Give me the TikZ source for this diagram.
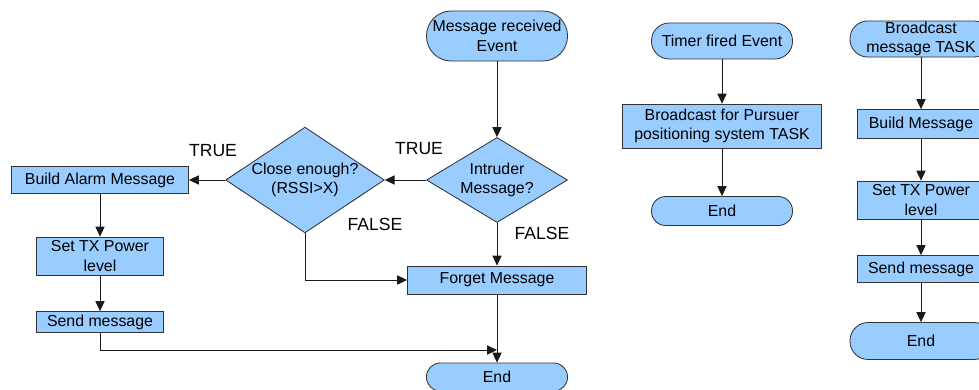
\documentclass[tikz,border=0pt]{standalone}
\usepackage{fontspec}
\setmainfont{Liberation Sans}
\usetikzlibrary{arrows.meta,positioning,shapes.geometric}
\definecolor{boxblue}{HTML}{99CCFF}
\definecolor{boxline}{HTML}{333333}
\definecolor{wire}{HTML}{1A1A1A}

\begin{document}
\begin{tikzpicture}[
  x=0.025cm, y=-0.025cm,
  every node/.style={font=\fontsize{11.3}{14}\selectfont, align=center, inner sep=0pt},
  task/.style 2 args={rectangle, draw=boxline, fill=boxblue, line width=0.6pt, minimum width=#1, minimum height=#2},
  term/.style 2 args={rectangle, rounded corners=#2/2-0.2pt, draw=boxline, fill=boxblue, line width=0.6pt, minimum width=#1, minimum height=#2},
  test/.style 2 args={diamond, aspect=1.5, draw=boxline, fill=boxblue, line width=0.6pt, minimum width=#1, minimum height=#2},
  branch/.style={font=\fontsize{12.5}{14}\selectfont},
  arr/.style={wire, line width=0.6pt, -{Triangle[length=7pt,width=6.5pt]}},
]
\useasboundingbox (0,0) rectangle (979,389);

% message handling flow (pixel grid, y grows downwards)
\node[term={3.525cm}{1.25cm}]  (msgrecv) at (497,36)  {Message received\\Event};
\node[test={3.525cm}{2.125cm}] (intruder) at (497,180) {Intruder\\Message?};
\node[test={3.875cm}{2.575cm}] (close)    at (305,180) {Close enough?\\(RSSI>X)};
\node[task={4.425cm}{0.675cm}] (alarm)    at (100,180) {Build Alarm Message};
\node[task={3.175cm}{0.95cm}]  (settxl)   at (100,256) {Set TX Power\\level};
\node[task={3.175cm}{0.525cm}] (sendl)    at (100,322) {Send message};
\node[task={4.475cm}{0.7cm}]   (forget)   at (497,280) {Forget Message};
\node[term={3.525cm}{0.7cm}]   (endm)     at (497,377) {End};
\coordinate (merge) at (497,350);

\node[branch] (truec)  at (213,151) {TRUE};
\node[branch] (truei)  at (419,149) {TRUE};
\node[branch] (falsec) at (375,224) {FALSE};
\node[branch] (falsei) at (542,233) {FALSE};

\draw[arr] (msgrecv) -- (intruder);
\draw[arr] (intruder) -- (close);
\draw[arr] (close) -- (alarm);
\draw[arr] (alarm) -- (settxl);
\draw[arr] (settxl) -- (sendl);
\draw[arr] (close.south) |- (forget.west);
\draw[arr] (intruder) -- (forget);
\draw[arr] (forget) -- (endm);
\draw[arr] (sendl.south) |- (merge);

% timer flow
\node[term={3.525cm}{0.9cm}]   (timer)   at (722,41)  {Timer fired Event};
\node[task={4.975cm}{1.1cm}]   (pursuer) at (722,126) {Broadcast for Pursuer\\positioning system TASK};
\node[term={3.525cm}{0.725cm}] (endt)    at (722,211) {End};
\draw[arr] (timer) -- (pursuer);
\draw[arr] (pursuer) -- (endt);

% broadcast task flow
\node[term={3.55cm}{0.9cm}]   (bcast)  at (921,39)  {Broadcast\\message TASK};
\node[task={3.2cm}{0.725cm}]  (build)  at (921,124) {Build Message};
\node[task={3.2cm}{0.95cm}]   (settxr) at (921,200) {Set TX Power\\level};
\node[task={3.2cm}{0.675cm}]  (sendr)  at (921,269) {Send message};
\node[term={3.55cm}{0.925cm}] (endb)   at (921,341) {End};
\draw[arr] (bcast) -- (build);
\draw[arr] (build) -- (settxr);
\draw[arr] (settxr) -- (sendr);
\draw[arr] (sendr) -- (endb);
\end{tikzpicture}
\end{document}
